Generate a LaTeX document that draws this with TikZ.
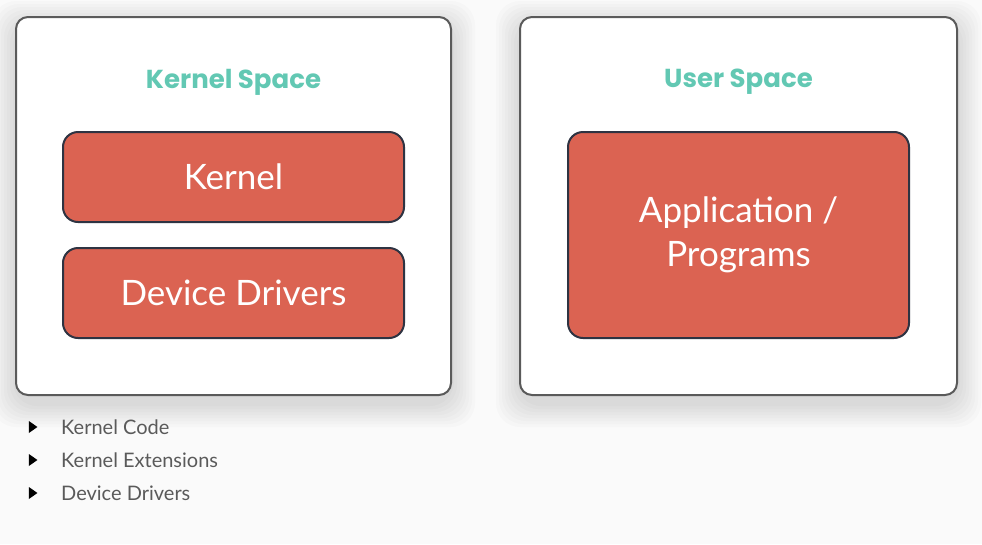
\documentclass[tikz,border=0pt]{standalone}
\usepackage{fontspec}
\setmainfont{Lato}
\newfontfamily\titlefont{Poppins}
\usetikzlibrary{shapes.geometric}
\definecolor{bgc}{HTML}{FAFAFA}
\definecolor{outerc}{HTML}{5A5A5A}
\definecolor{redc}{HTML}{DB6352}
\definecolor{redborder}{HTML}{2E3342}
\definecolor{tealc}{HTML}{62C8B3}
\definecolor{bulletc}{HTML}{5A5A5A}
\tikzset{
  panel/.style={draw=outerc, line width=2pt, fill=white, rounded corners=12pt, inner sep=0pt},
  shade1/.style={fill=black, fill opacity=0.015, rounded corners=24pt, draw=none},
  redbox/.style={draw=redborder, line width=2pt, fill=redc, rounded corners=15pt, inner sep=0pt,
    minimum width=341pt, text=white, font=\fontsize{35}{44}\selectfont, align=center},
  title/.style={text=tealc, font=\titlefont\fontsize{26}{30}\selectfont\bfseries},
  bullettext/.style={text=bulletc, font=\fontsize{20}{24}\selectfont, anchor=west, inner sep=0pt},
  tri/.style={isosceles triangle, isosceles triangle apex angle=70, fill=black, inner sep=0pt,
    minimum height=8pt, minimum width=12pt}
}
\begin{document}
\begin{tikzpicture}[x=1pt,y=-1pt]
\fill[bgc] (0,0) rectangle (982,544);
\useasboundingbox (0,0) rectangle (982,544);

% soft shadows
\foreach \d in {3,6,9,12,15,18,21,24}{
  \fill[shade1] (16-\d,17-\d+8) rectangle (451+\d,395+\d+8);
  \fill[shade1] (520-\d,17-\d+8) rectangle (957+\d,395+\d+8);
}

\node[panel, minimum width=435pt, minimum height=378pt] (kspace) at (233.5,206) {};
\node[panel, minimum width=437pt, minimum height=378pt] (uspace) at (738.5,206) {};

\node[title] (ktitle) at (233.5,82) {Kernel Space};
\node[title] (utitle) at (738.5,82) {User Space};

\node[redbox, minimum height=90pt] (kernel) at (233.5,177) {Kernel};
\node[redbox, minimum height=90pt] (drivers) at (233.5,293) {Device Drivers};
\node[redbox, minimum height=206pt] (app) at (738.5,235) {Application /\\Programs};

\node[bullettext] (b1) at (61,427) {Kernel Code};
\node[bullettext] (b2) at (61,460) {Kernel Extensions};
\node[bullettext] (b3) at (61,493) {Device Drivers};
\node[tri] (t1) at (32,427) {};
\node[tri] (t2) at (32,460) {};
\node[tri] (t3) at (32,493) {};
\end{tikzpicture}
\end{document}
